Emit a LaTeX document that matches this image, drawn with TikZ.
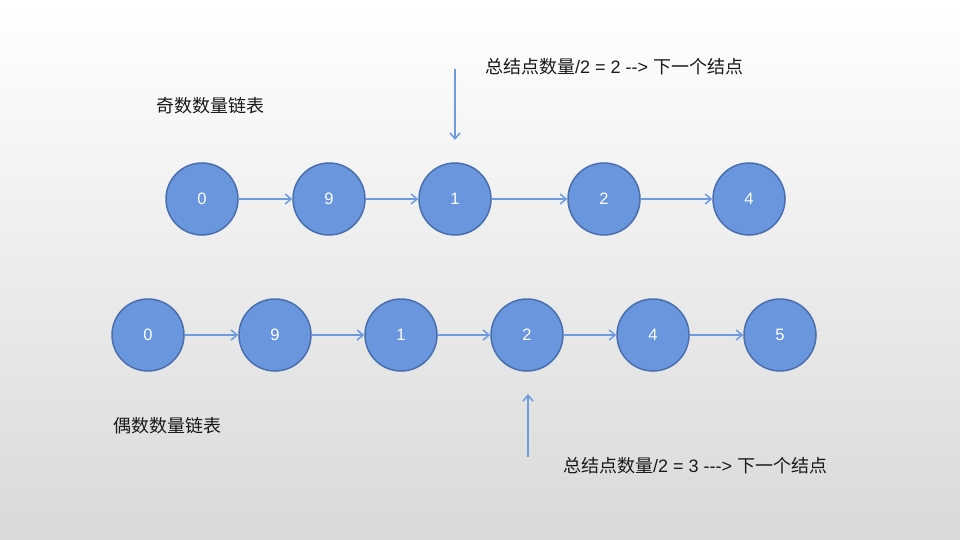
\documentclass[tikz,border=0pt]{standalone}
\usepackage{fontspec}
\setmainfont{Liberation Sans}
\newfontfamily\cjk{Noto Sans CJK SC}
\usetikzlibrary{arrows.meta}
\definecolor{nodefill}{HTML}{6A96DE}
\definecolor{nodeedge}{HTML}{4A6FAE}
\definecolor{arrowcol}{HTML}{6D9BE0}
\definecolor{bgbottom}{HTML}{D9D9D9}
\tikzset{
  listnode/.style={circle, minimum size=72pt, inner sep=0pt, fill=nodefill, draw=nodeedge, line width=1.5pt, text=white, font=\fontsize{16.5}{18}\selectfont},
  link/.style={draw=arrowcol, line width=1.5pt, -{Straight Barb[length=6pt,width=10pt]}},
  pointer/.style={draw=arrowcol, line width=1.5pt, -{Straight Barb[length=6pt,width=10pt]}},
  lbl/.style={inner sep=0pt, text=black!90, font=\fontsize{18}{20}\selectfont, anchor=west}
}
\begin{document}
\begin{tikzpicture}[x=1pt,y=-1pt]
\shade[top color=white, bottom color=bgbottom] (0,0) rectangle (960,540);
\useasboundingbox (0,0) rectangle (960,540);
% odd list
\node[listnode] (a0) at (202,199) {0};
\node[listnode] (a1) at (329,199) {9};
\node[listnode] (a2) at (455,199) {1};
\node[listnode] (a3) at (604,199) {2};
\node[listnode] (a4) at (749,199) {4};
\draw[link] (a0) -- (a1);
\draw[link] (a1) -- (a2);
\draw[link] (a2) -- (a3);
\draw[link] (a3) -- (a4);
% even list
\node[listnode] (b0) at (148,335) {0};
\node[listnode] (b1) at (275,335) {9};
\node[listnode] (b2) at (401,335) {1};
\node[listnode] (b3) at (527,335) {2};
\node[listnode] (b4) at (653,335) {4};
\node[listnode] (b5) at (780,335) {5};
\draw[link] (b0) -- (b1);
\draw[link] (b1) -- (b2);
\draw[link] (b2) -- (b3);
\draw[link] (b3) -- (b4);
\draw[link] (b4) -- (b5);
% labels
\node[lbl] (oddlbl) at (156,106) {\cjk 奇数数量链表};
\node[lbl] (evenlbl) at (113,426) {\cjk 偶数数量链表};
\node[lbl] (toplbl) at (485,67) {{\cjk 总结点数量}/2 = 2 -{}-{}> {\cjk 下一个结点}};
\node[lbl] (botlbl) at (563,466) {{\cjk 总结点数量}/2 = 3 -{}-{}-{}> {\cjk 下一个结点}};
% pointers
\coordinate (ptop) at (455,69);
\coordinate (ptopend) at (455,140);
\coordinate (pbot) at (528,457);
\coordinate (pbotend) at (528,394);
\draw[pointer] (ptop) -- (ptopend);
\draw[pointer] (pbot) -- (pbotend);
\end{tikzpicture}
\end{document}
